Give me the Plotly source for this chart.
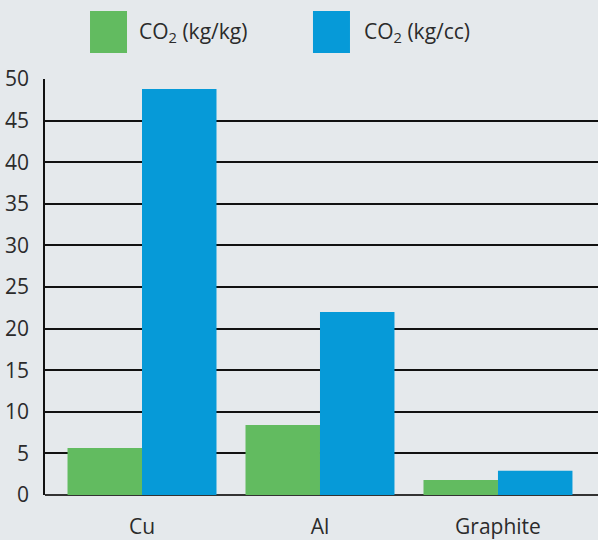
import plotly.graph_objects as go

categories = ["Cu", "Al", "Graphite"]
co2_kg_per_kg = [5.65, 8.4, 1.8]
co2_kg_per_cc = [48.8, 22.0, 2.9]
series_names = ["CO<sub>2</sub> (kg/kg)", "CO<sub>2</sub> (kg/cc)"]
y_ticks = [0, 5, 10, 15, 20, 25, 30, 35, 40, 45, 50]

GREEN = "#62bb60"
BLUE = "#069ad8"
BG = "#e5e9ec"
TXT = "#2b2b2b"
FONT = "Open Sans"

fig = go.Figure()
fig.add_trace(go.Bar(x=categories, y=co2_kg_per_kg, marker=dict(color=GREEN, line=dict(width=0)),
                     name=series_names[0], showlegend=False))
fig.add_trace(go.Bar(x=categories, y=co2_kg_per_cc, marker=dict(color=BLUE, line=dict(width=0)),
                     name=series_names[1], showlegend=False))

# custom legend (large swatches)
legend_items = [(GREEN, 0.0814, 0.1483, 0.1664), (BLUE, 0.4846, 0.5515, 0.5732)]
for (col, x0, x1, tx), name in zip(legend_items, series_names):
    fig.add_shape(type="rect", xref="paper", yref="paper", x0=x0, x1=x1, y0=1.0625, y1=1.1635,
                  fillcolor=col, line=dict(width=0))
    fig.add_annotation(xref="paper", yref="paper", x=tx, y=1.113, xanchor="left", yanchor="middle",
                       text=name, showarrow=False, font=dict(size=21, color=TXT, family=FONT))

fig.update_layout(
    width=598, height=540,
    margin=dict(l=45, r=0, t=79, b=45),
    paper_bgcolor=BG, plot_bgcolor=BG,
    barmode="group", bargap=0.163, bargroupgap=0,
    font=dict(family=FONT, color=TXT, size=21),
    xaxis=dict(type="category", range=[-0.545, 2.562], showgrid=False, showline=False,
               zeroline=False, ticks="", ticklabelstandoff=17, tickfont=dict(size=21, color=TXT)),
    yaxis=dict(range=[0, 50], tickvals=y_ticks, showgrid=True, gridcolor="#111111", gridwidth=1.5,
               showline=True, linecolor="#111111", linewidth=1.5, zeroline=True,
               zerolinecolor="#333333", zerolinewidth=2, ticks="", ticklabelstandoff=10,
               tickfont=dict(size=21, color=TXT)),
)
fig.write_html("out.html", config={"displayModeBar": False},
               post_script="document.body.style.margin='0';document.body.style.background='%s';" % BG)
